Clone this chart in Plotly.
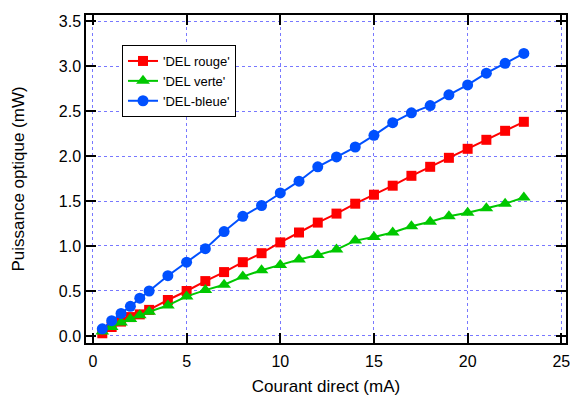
import plotly.graph_objects as go

# Courant direct (mA)
courant = [0.5, 1, 1.5, 2, 2.5, 3, 4, 5, 6, 7, 8, 9, 10, 11, 12, 13, 14, 15,
           16, 17, 18, 19, 20, 21, 22, 23]

# Puissance optique (mW) pour chaque DEL
del_rouge = [0.03, 0.10, 0.16, 0.21, 0.24, 0.29, 0.40, 0.50, 0.61, 0.71, 0.82,
             0.92, 1.04, 1.15, 1.26, 1.36, 1.47, 1.57, 1.67, 1.78, 1.88, 1.98,
             2.08, 2.18, 2.28, 2.38]
del_verte = [0.05, 0.10, 0.15, 0.19, 0.23, 0.27, 0.34, 0.44, 0.51, 0.57, 0.66,
             0.73, 0.79, 0.85, 0.90, 0.96, 1.06, 1.10, 1.15, 1.22, 1.27, 1.33,
             1.37, 1.42, 1.47, 1.54]
del_bleue = [0.08, 0.17, 0.25, 0.33, 0.42, 0.50, 0.67, 0.82, 0.97, 1.16, 1.33,
             1.45, 1.59, 1.72, 1.88, 1.99, 2.10, 2.23, 2.37, 2.48, 2.56, 2.68,
             2.79, 2.92, 3.03, 3.14]

series = [
    ("'DEL rouge'", del_rouge, "#ff0000", "square", 10),
    ("'DEL verte'", del_verte, "#00c800", "triangle-up", 12),
    ("'DEL-bleue'", del_bleue, "#0050ff", "circle", 11),
]

FONT = "Liberation Sans, Arial, sans-serif"

fig = go.Figure()
for name, vals, color, symbol, size in series:
    fig.add_trace(go.Scatter(
        x=courant, y=vals, name=name, mode="lines+markers",
        line=dict(color=color, width=2),
        marker=dict(symbol=symbol, size=size, color=color),
    ))

axis_common = dict(
    showline=True, linecolor="black", linewidth=1.5, mirror="ticks",
    ticks="inside", ticklen=10, tickwidth=1.5, tickcolor="black",
    showgrid=True, gridcolor="#7878ff", griddash="dot", gridwidth=1,
    zeroline=False, automargin=False, ticklabeloverflow="allow",
    tickfont=dict(family=FONT, size=16, color="black"),
    title_font=dict(family=FONT, size=17, color="black"),
)

fig.update_layout(
    width=570, height=399,
    margin=dict(l=86, r=4, t=15, b=56),
    paper_bgcolor="white", plot_bgcolor="white",
    xaxis=dict(range=[-0.37, 25.25], tickvals=[0, 5, 10, 15, 20, 25],
               ticklabelstandoff=3,
               title=dict(text="Courant direct (mA)", standoff=11),
               **axis_common),
    yaxis=dict(range=[-0.078, 3.567], tickvals=[0, 0.5, 1, 1.5, 2, 2.5, 3, 3.5],
               tickformat=".1f",
               title=dict(text="Puissance optique (mW)", standoff=30),
               **axis_common),
    legend=dict(x=0.075, y=0.9085, xanchor="left", yanchor="top",
                bgcolor="white", bordercolor="black", borderwidth=1,
                font=dict(family=FONT, size=13, color="black")),
    showlegend=True,
)

fig.write_html("out.html")
